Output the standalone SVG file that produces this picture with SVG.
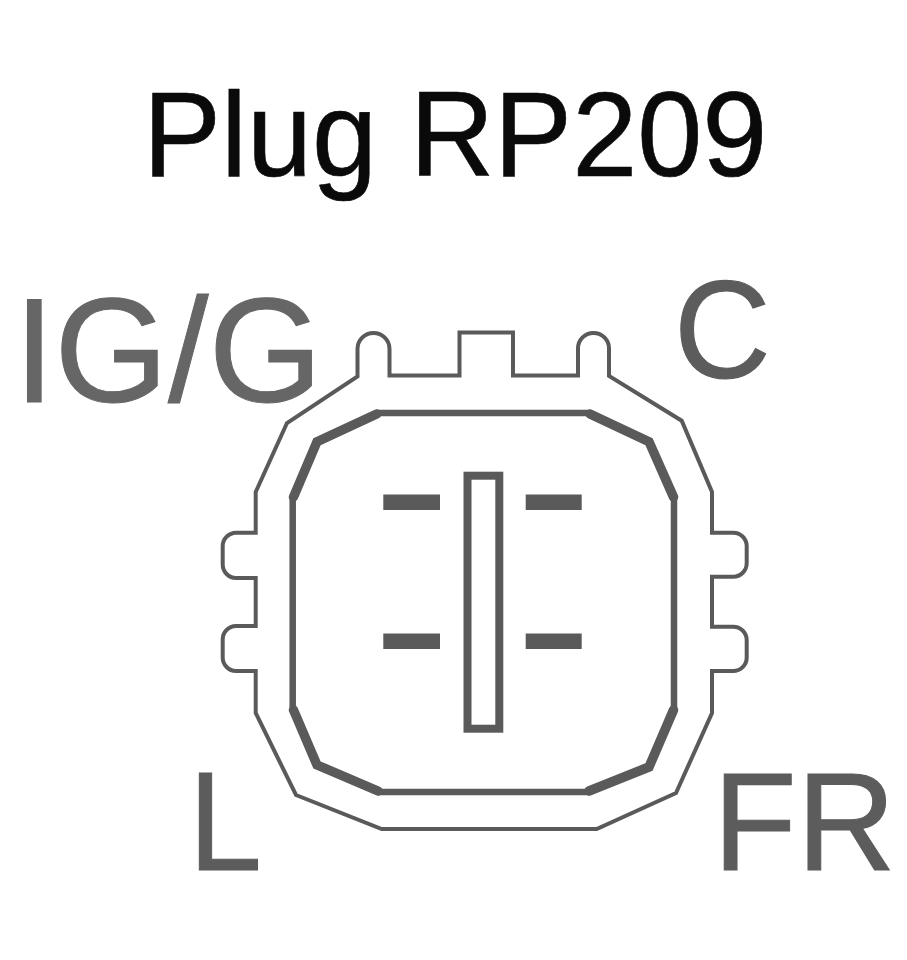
<svg xmlns="http://www.w3.org/2000/svg" width="907" height="960" viewBox="0 0 907 960">
<style>
text{font-family:"Liberation Sans",Arial,sans-serif}
.title{font-size:117px;fill:#0a0a0a;stroke:#0a0a0a;stroke-width:.6}
.lbl{fill:#5c5c5c;stroke:#5c5c5c;stroke-width:1}
.o{fill:none;stroke:#5a5a5a;stroke-width:4;stroke-linejoin:miter}
.i{fill:none;stroke:#5a5a5a;stroke-width:6.5;stroke-linejoin:miter}
.d{fill:none;stroke:#5a5a5a;stroke-width:9.5;stroke-linecap:round}
.b{fill:none;stroke:#5a5a5a;stroke-width:8}
.p{fill:#5a5a5a}
</style>
<rect width="907" height="960" fill="#fff"/>
<text id="title" class="title" transform="translate(143 176) scale(1 1.03)">Plug RP209</text>
<text id="label-ig" class="lbl" font-size="146" transform="translate(14 402) scale(1 1.02)" style="fill:#666;stroke:#666">IG/G</text>
<text id="label-c" class="lbl" font-size="134" transform="translate(674 378) scale(1 1.04)">C</text>
<text id="label-l" class="lbl" font-size="132" transform="translate(188.500 870) scale(1 1.07)">L</text>
<text id="label-fr" class="lbl" font-size="137" transform="translate(713 870) scale(1 1.02)">FR</text>
<g id="plug">
<path class="o" d="M357.500 376.500V349A16 16 0 0 1 373.500 333A16 16 0 0 1 389.500 349V375.500H459.500V332.500H513V375.500H578V349A15.500 15.500 0 0 1 593.500 333A15.500 15.500 0 0 1 609 349V376L681.700 420.700L712 492V532.700H733A13.500 13.500 0 0 1 746.700 546V563A13.500 13.500 0 0 1 733 576.700H712V626.700H733A13.500 13.500 0 0 1 746.700 640V657.500A13.500 13.500 0 0 1 733 671H712V713L676 793L596.700 829H381.700L296 795L255.700 713V671H236A13.500 13.500 0 0 1 222.700 657.500V640A13.500 13.500 0 0 1 236 626H255.700V578H236A13.500 13.500 0 0 1 222.700 564.500V546A13.500 13.500 0 0 1 236 532.700H255.700V492L287 423Z"/>
<path class="i" d="M292.700 497L317 441.700L376.700 413H590L649 441.700L674 497V710L649 767L589 792H378L317 765L292.700 710Z"/>
<path class="d" d="M293.500 497L317 441.700L376.700 414M590 414L649 441.700L673.500 497M673.500 710L649 767L589 791M378 791L317 765L293.500 710"/>
</g>
<g id="blade"><rect class="b" x="467.500" y="475.700" width="31.800" height="253"/></g>
<g id="pins">
<rect class="p" x="383.300" y="494.500" width="56.700" height="15.500"/>
<rect class="p" x="525.700" y="494.500" width="56" height="15.500"/>
<rect class="p" x="383.300" y="633.500" width="56.700" height="15.500"/>
<rect class="p" x="525.700" y="633.500" width="56" height="15.500"/>
</g>
</svg>
